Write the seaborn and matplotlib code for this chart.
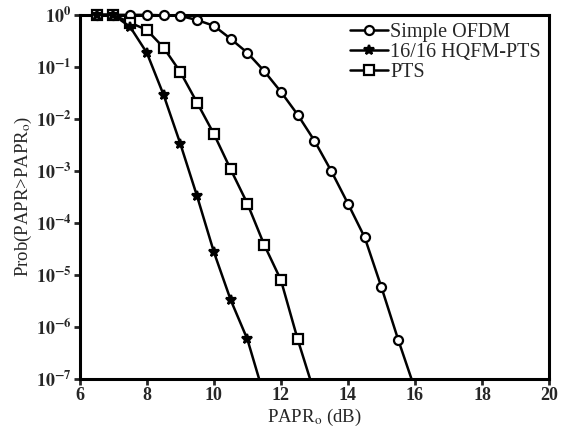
import numpy as np
import matplotlib
matplotlib.use("Agg")
import matplotlib.pyplot as plt
from matplotlib.patches import Rectangle
import seaborn as sns

# PAPR0 thresholds (dB) and log10 of CCDF
papr_ofdm = [6.5, 7.0, 7.5, 8.0, 8.5, 9.0, 9.5, 10.0, 10.5, 11.0, 11.5, 12.0,
             12.5, 13.0, 13.5, 14.0, 14.5, 15.0, 15.5, 16.0]
log_ofdm = [0.0, 0.0, 0.0, 0.0, -0.01, -0.02, -0.1, -0.21, -0.46, -0.73, -1.08,
            -1.48, -1.92, -2.42, -3.0, -3.63, -4.28, -5.24, -6.25, -7.2]

papr_hq = [6.5, 7.0, 7.5, 8.0, 8.5, 9.0, 9.5, 10.0, 10.5, 11.0, 11.5]
log_hq = [0.0, 0.0, -0.23, -0.73, -1.54, -2.48, -3.49, -4.56, -5.48, -6.24, -7.33]

papr_pts = [6.5, 7.0, 7.5, 8.0, 8.5, 9.0, 9.5, 10.0, 10.5, 11.0, 11.5, 12.0, 12.5, 13.0]
log_pts = [0.0, 0.0, -0.15, -0.29, -0.63, -1.1, -1.69, -2.29, -2.97, -3.63,
           -4.42, -5.1, -6.24, -7.27]

labels = ["Simple OFDM", "16/16 HQFM-PTS", "PTS"]
xticks = [6, 8, 10, 12, 14, 16, 18, 20]
yexps = [0, -1, -2, -3, -4, -5, -6, -7]

sns.set_style("ticks")
plt.rcParams["font.family"] = ["Liberation Serif", "DejaVu Serif"]
plt.rcParams["mathtext.fontset"] = "stix"

fig = plt.figure(figsize=(5.62, 4.37), dpi=100)
ax = fig.add_axes([0.142, 0.133, 0.835, 0.833])

common = dict(color="black", linewidth=1.8, markeredgewidth=1.6, ax=ax)
sns.lineplot(x=papr_ofdm, y=10.0 ** np.array(log_ofdm), marker="o", markersize=6.5,
             markerfacecolor="white", markeredgecolor="black", label=labels[0], **common)
sns.lineplot(x=papr_pts, y=10.0 ** np.array(log_pts), marker="s", markersize=7,
             markerfacecolor="white", markeredgecolor="black", label=labels[2], **common)
sns.lineplot(x=papr_hq, y=10.0 ** np.array(log_hq), marker="*", markersize=7.5,
             markerfacecolor="black", markeredgecolor="black", label=labels[1], **common)

# let markers sitting on the top spine show, but keep clipping at the bottom
clip = Rectangle((0, 0), 1, 1.1, transform=ax.transAxes, facecolor="none", edgecolor="none")
for ln in ax.lines:
    ln.set_clip_path(clip)

ax.set_yscale("log")
ax.set_xlim(6, 20)
ax.set_ylim(1e-7, 1)
ax.set_xticks(xticks)
ax.set_xticklabels([str(t) for t in xticks], fontsize=13, fontweight="bold")
ax.set_yticks([10.0 ** e for e in yexps])
ax.set_yticklabels([r"$\mathbf{10^{%d}}$" % e if e == 0 else r"$\mathbf{10^{-%d}}$" % -e
                    for e in yexps], fontsize=13)
ax.yaxis.set_minor_locator(matplotlib.ticker.NullLocator())
ax.tick_params(direction="out", length=4, width=2, pad=2)

for s in ax.spines.values():
    s.set_linewidth(2.2)
    s.set_color("black")
    s.set_zorder(1)

ax.set_xlabel(r"PAPR$_\mathrm{o}$ (dB)", fontsize=13.5, labelpad=2)
ax.set_ylabel(r"Prob(PAPR>PAPR$_\mathrm{o}$)", fontsize=13.5, labelpad=1)

handles, labs = ax.get_legend_handles_labels()
order = [labs.index(l) for l in labels]
ax.legend([handles[i] for i in order], [labs[i] for i in order],
          loc="upper right", frameon=False, fontsize=14.5, handlelength=1.9,
          handletextpad=0.1, labelspacing=0.05, borderaxespad=0.2, borderpad=0.2)

fig.savefig("out.png", dpi=100)
